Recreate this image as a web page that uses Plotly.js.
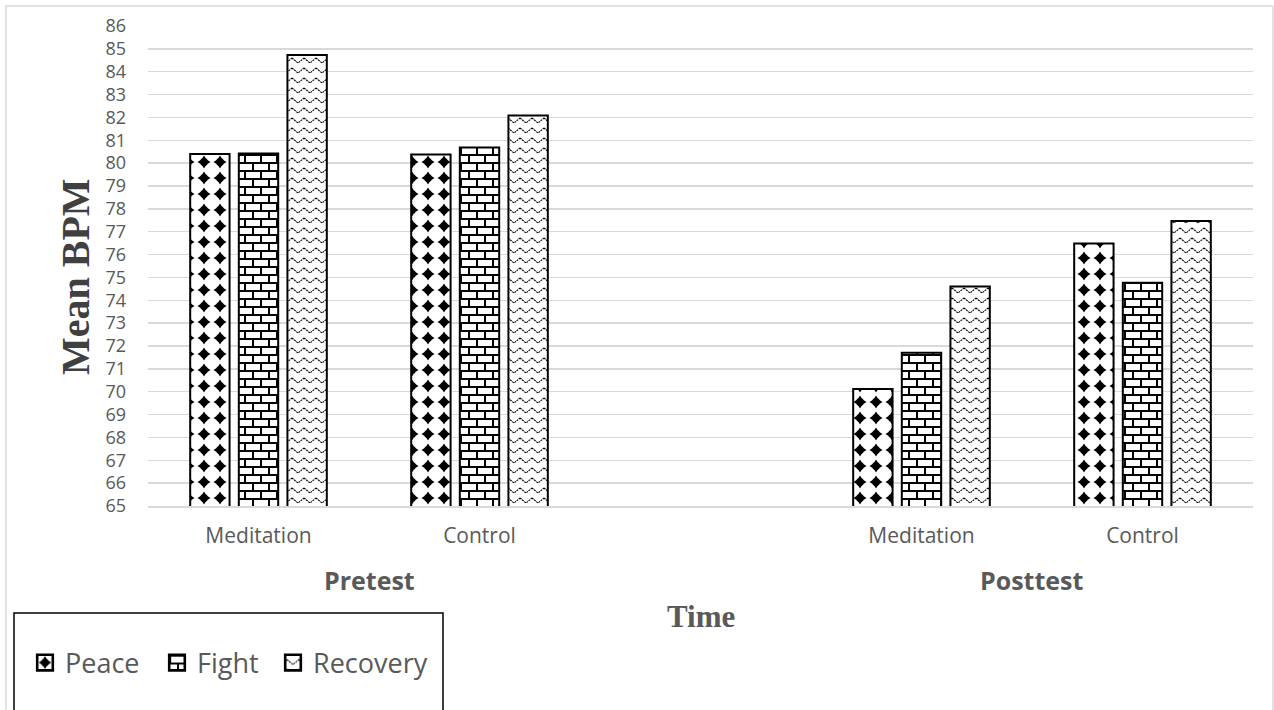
<!DOCTYPE html>
<html>
<head>
<meta charset="utf-8">
<script src="https://cdn.plot.ly/plotly-3.0.1.min.js"></script>
<style>
  html, body { margin: 0; padding: 0; background: #ffffff; }
  #chart { width: 1274px; height: 710px; }
</style>
</head>
<body>
<div id="chart"></div>
<script>
// ---- data ----
const groups = ["Pretest", "Posttest"];
const conditions = ["Meditation", "Control"];
const seriesNames = ["Peace", "Fight", "Recovery"];
// values in order: Pretest-Meditation, Pretest-Control, Posttest-Meditation, Posttest-Control
const peace = [80.40, 80.38, 70.12, 76.48];
const fight = [80.42, 80.68, 71.71, 74.77];
const recovery = [84.73, 82.08, 74.60, 77.47];
const yTicks = [65, 66, 67, 68, 69, 70, 71, 72, 73, 74, 75, 76, 77, 78, 79, 80, 81, 82, 83, 84, 85, 86];
const gapKey = "gap";

// ---- build categories ----
const xKeys = [];
const xTickText = [];
groups.forEach(g => conditions.forEach(c => { xKeys.push(g + " " + c); xTickText.push(c); }));
const categoryOrder = xKeys.slice(0, conditions.length)
  .concat([gapKey])
  .concat(xKeys.slice(conditions.length));

const seriesValues = [peace, fight, recovery];
const fallbackShapes = [".", "+", "x"];
const legendIds = ["legend", "legend2", "legend3"];

const traces = seriesNames.map((name, i) => ({
  type: "bar",
  name: name,
  legend: legendIds[i],
  x: xKeys,
  y: seriesValues[i],
  marker: {
    color: "#ffffff",
    line: { color: "#000000", width: 2 },
    pattern: { shape: fallbackShapes[i], fgcolor: "#000000", bgcolor: "#ffffff", size: 8, solidity: 0.3, fgopacity: 1 }
  },
  hoverinfo: "none"
}));

const gray = "#595959";
const px = v => (v - 148) / 1105;   // helper for paper-x of decorations
const py = v => (506 - v) / 480;    // helper for paper-y of decorations

function legendAt(left) {
  return {
    orientation: "h",
    x: px(left), xanchor: "left",
    y: py(663), yanchor: "middle",
    font: { family: "Open Sans", size: 27, color: gray },
    bgcolor: "rgba(0,0,0,0)",
    borderwidth: 0
  };
}

const layout = {
  width: 1274,
  height: 710,
  margin: { l: 148, r: 21, t: 26, b: 204 },
  paper_bgcolor: "#ffffff",
  plot_bgcolor: "#ffffff",
  barmode: "group",
  bargap: 0.34,
  bargroupgap: 0.19,
  showlegend: true,
  legend: legendAt(25),
  legend2: legendAt(157),
  legend3: legendAt(273),
  xaxis: {
    type: "category",
    categoryorder: "array",
    categoryarray: categoryOrder,
    range: [-0.5, categoryOrder.length - 0.5],
    tickmode: "array",
    tickvals: xKeys,
    ticktext: xTickText,
    tickfont: { family: "Open Sans", size: 21, color: gray },
    ticks: "",
    ticklabelstandoff: 10,
    showgrid: false,
    showline: true,
    linecolor: "#d9d9d9",
    linewidth: 1.5,
    zeroline: false,
    fixedrange: true
  },
  yaxis: {
    range: [65, 86],
    tickmode: "array",
    tickvals: yTicks,
    ticktext: yTicks.map(String),
    tickfont: { family: "Open Sans", size: 18, color: gray },
    ticks: "",
    ticklabelstandoff: 21,
    showgrid: true,
    gridcolor: "#d9d9d9",
    gridwidth: 1.5,
    showline: false,
    zeroline: false,
    fixedrange: true
  },
  annotations: [
    { text: groups[0], xref: "x", yref: "paper", x: 0.5, y: py(580), showarrow: false,
      xanchor: "center", yanchor: "middle", font: { family: "Open Sans", size: 25, color: gray, weight: "bold" } },
    { text: groups[1], xref: "x", yref: "paper", x: 3.5, y: py(580), showarrow: false,
      xanchor: "center", yanchor: "middle", font: { family: "Open Sans", size: 25, color: gray, weight: "bold" } },
    { text: "Time", xref: "x", yref: "paper", x: 2, y: py(616), showarrow: false,
      xanchor: "center", yanchor: "middle", font: { family: "Liberation Serif", size: 31, color: gray, weight: "bold" } },
    { text: "Mean BPM", xref: "paper", yref: "paper", x: px(75), y: py(277), textangle: -90, showarrow: false,
      xanchor: "center", yanchor: "middle", font: { family: "Liberation Serif", size: 40, color: "#404040", weight: "bold" } }
  ],
  shapes: [
    { type: "rect", xref: "paper", yref: "paper", x0: px(6), x1: px(1273), y0: py(740), y1: py(6),
      line: { color: "#d9d9d9", width: 1.5 }, fillcolor: "rgba(0,0,0,0)", layer: "below" },
    { type: "rect", xref: "paper", yref: "paper", x0: px(14), x1: px(443), y0: py(740), y1: py(613),
      line: { color: "#000000", width: 1.5 }, fillcolor: "rgba(0,0,0,0)", layer: "above" }
  ]
};

// ---- custom fill tiles (visual style only) ----
const tiles = [
  { w: 16, h: 16, svg:
    '<rect width="16" height="16" fill="#ffffff"/>' +
    '<path d="M8,1.5 L10.6,5.4 L14.5,8 L10.6,10.6 L8,14.5 L5.4,10.6 L1.5,8 L5.4,5.4 Z" fill="#000000"/>' +
    '<rect x="4.8" y="4.8" width="6.4" height="6.4" fill="#000000"/>' },
  { w: 16, h: 16, svg:
    '<rect width="16" height="16" fill="#ffffff"/>' +
    '<rect x="0" y="0" width="16" height="2" fill="#000000"/>' +
    '<rect x="0" y="8" width="16" height="2" fill="#000000"/>' +
    '<rect x="0" y="0" width="2" height="8" fill="#000000"/>' +
    '<rect x="8" y="8" width="2" height="8" fill="#000000"/>' },
  { w: 12, h: 10, svg:
    '<rect width="12" height="10" fill="#ffffff"/>' +
    '<polyline points="0,2 6,7 12,2" fill="none" stroke="#000000" stroke-width="1.1" stroke-dasharray="2,0.8"/>' }
];

function idFromFill(el) {
  const f = (el.style && el.style.fill) || el.getAttribute("fill") || "";
  const m = f.match(/#([^'")\s]+)/);
  return m ? m[1] : null;
}
function setTile(id, t, legendMode) {
  const p = document.getElementById(id);
  if (!p) return;
  p.setAttribute("width", t.w);
  p.setAttribute("height", t.h);
  p.innerHTML = t.svg;
  if (legendMode) p.setAttribute("patternTransform", "scale(0.75) translate(" + (-t.w / 2) + "," + (-t.h / 2) + ")");
}
function traceIndexOf(g, fallback) {
  try {
    const d = g.__data__;
    if (d && d[0] && d[0].trace) return d[0].trace.index;
    if (d && d[0] && d[0][0] && d[0][0].trace) return d[0][0].trace.index;
  } catch (e) {}
  return fallback;
}
function applyTiles(gd) {
  try {
    gd.querySelectorAll(".barlayer .trace.bars").forEach((g, k) => {
      const idx = traceIndexOf(g, k);
      g.querySelectorAll("path").forEach(p => { const id = idFromFill(p); if (id && tiles[idx]) setTile(id, tiles[idx], false); });
    });
    gd.querySelectorAll(".legendpoints").forEach((lp, k) => {
      const holder = lp.closest(".traces") || lp;
      const idx = traceIndexOf(holder, k);
      lp.querySelectorAll("path").forEach(p => {
        const id = idFromFill(p);
        if (id && tiles[idx]) setTile(id, tiles[idx], true);
        const tr = p.getAttribute("transform") || "";
        p.setAttribute("transform", (tr + " scale(1.3)").trim());
      });
    });
  } catch (e) { console.log(e); }
}

Plotly.newPlot("chart", traces, layout, { displayModeBar: false, staticPlot: true })
  .then(gd => applyTiles(gd));
</script>
</body>
</html>
